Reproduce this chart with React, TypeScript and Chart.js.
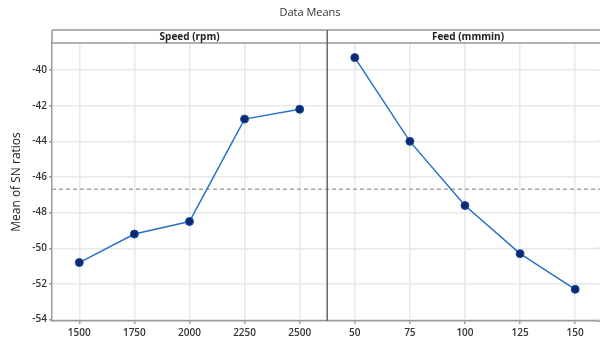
import React, { useEffect, useRef } from "react";
import Chart from "chart.js/auto";

const speedLabels = ["1500", "1750", "2000", "2250", "2500"];
const feedLabels = ["50", "75", "100", "125", "150"];
const speedMeans = [-50.8, -49.2, -48.5, -42.75, -42.2];
const feedMeans = [-39.3, -44.0, -47.6, -50.3, -52.3];
const overallMean = -46.68;
const yTicks = [-54, -52, -50, -48, -46, -44, -42, -40];
const panelTitles = ["Speed (rpm)", "Feed (mmmin)"];
const chartTitle = "Data Means";
const yTitle = "Mean of SN ratios";

const allLabels = [...speedLabels, ...feedLabels];
const X_MIN = -0.495;
const X_MAX = 9.36;
const X_EDGE = 9.46;

const decorPlugin = {
  id: "decor",
  afterDraw(chart: any) {
    const ctx = chart.ctx;
    const area = chart.chartArea;
    const xs = chart.scales.x;
    const ys = chart.scales.y;
    const divX = xs.getPixelForValue(4.5);
    const headerTop = 30;
    const rightEdge = chart.width;
    ctx.save();
    // extend horizontal gridlines to the canvas edge
    ctx.strokeStyle = "#e8e8e8";
    ctx.lineWidth = 1.5;
    ctx.beginPath();
    for (const t of ys.ticks) {
      const py = ys.getPixelForValue(t.value);
      ctx.moveTo(area.right, py);
      ctx.lineTo(rightEdge, py);
    }
    ctx.stroke();
    // extend bottom axis line
    ctx.strokeStyle = "#999";
    ctx.beginPath();
    ctx.moveTo(area.right, area.bottom);
    ctx.lineTo(rightEdge, area.bottom);
    ctx.stroke();
    // title
    ctx.fillStyle = "#333";
    ctx.font = "11px 'Open Sans'";
    ctx.textAlign = "center";
    ctx.textBaseline = "middle";
    ctx.fillText(chartTitle, 310, 13);
    // header strip
    ctx.strokeStyle = "#999";
    ctx.lineWidth = 1.5;
    ctx.beginPath();
    ctx.moveTo(area.left, headerTop);
    ctx.lineTo(rightEdge, headerTop);
    ctx.moveTo(area.left, area.top);
    ctx.lineTo(rightEdge, area.top);
    ctx.moveTo(area.left, headerTop);
    ctx.lineTo(area.left, area.top);
    ctx.stroke();
    // divider
    ctx.strokeStyle = "#666";
    ctx.lineWidth = 1.5;
    ctx.beginPath();
    ctx.moveTo(divX, headerTop);
    ctx.lineTo(divX, area.bottom);
    ctx.stroke();
    // panel titles
    ctx.fillStyle = "#222";
    ctx.font = "bold 10px 'Open Sans'";
    ctx.fillText(panelTitles[0], (area.left + divX) / 2, (headerTop + area.top) / 2 + 0.5);
    ctx.fillText(panelTitles[1], 468, (headerTop + area.top) / 2 + 0.5);
    // y title
    ctx.translate(17, 182);
    ctx.rotate(-Math.PI / 2);
    ctx.fillStyle = "#222";
    ctx.font = "12px 'Open Sans'";
    ctx.fillText(yTitle, 0, 0);
    ctx.restore();
  },
};

export default function App() {
  const ref = useRef<HTMLCanvasElement>(null);
  useEffect(() => {
    const canvas = ref.current;
    if (!canvas) return;
    const speedData = speedMeans.map((v, i) => ({ x: i, y: v }));
    const feedData = feedMeans.map((v, i) => ({ x: i + 5, y: v }));
    const lineStyle = {
      borderColor: "#2a72c6",
      borderWidth: 1.5,
      pointRadius: 4,
      pointBackgroundColor: "#0b2a70",
      pointBorderColor: "#1a4c9e",
      pointBorderWidth: 1,
      tension: 0,
      order: 1,
    };
    const chart = new Chart(canvas, {
      type: "line",
      data: {
        datasets: [
          { label: "Speed", data: speedData, ...lineStyle },
          { label: "Feed", data: feedData, ...lineStyle },
          {
            label: "Mean",
            data: [
              { x: X_MIN, y: overallMean },
              { x: X_EDGE, y: overallMean },
            ],
            borderColor: "#a8a8a8",
            borderWidth: 1.5,
            borderDash: [4, 3],
            pointRadius: 0,
            clip: { left: 0, top: 0, bottom: 0, right: 10 },
            order: 2,
          },
        ],
      },
      options: {
        animation: false,
        responsive: false,
        layout: { padding: { top: 43, right: 0, left: 0, bottom: 0 } },
        plugins: {
          legend: { display: false },
          title: { display: false },
          tooltip: { enabled: false },
        },
        scales: {
          x: {
            type: "linear",
            min: X_MIN,
            max: X_MAX,
            afterBuildTicks: (axis: any) => {
              axis.ticks = allLabels.map((_, i) => ({ value: i }));
            },
            afterFit: (scale: any) => {
              scale.height = 24;
            },
            ticks: {
              autoSkip: false,
              maxRotation: 0,
              padding: 3,
              color: "#333",
              font: { family: "'Open Sans'", size: 10, weight: "600" },
              callback: (v: any) => allLabels[v] ?? "",
            },
            grid: {
              color: "#e8e8e8",
              lineWidth: 1.5,
              tickColor: "#999",
              tickLength: 3,
            },
            border: { color: "#999", width: 1.5 },
          },
          y: {
            type: "linear",
            min: -54.08,
            max: -38.48,
            afterBuildTicks: (axis: any) => {
              axis.ticks = yTicks.map((v) => ({ value: v }));
            },
            afterFit: (scale: any) => {
              scale.width = 52;
            },
            ticks: {
              padding: 2,
              color: "#333",
              font: { family: "'Open Sans'", size: 10, weight: "600" },
            },
            grid: {
              color: "#e8e8e8",
              lineWidth: 1.5,
              tickColor: "#999",
              tickLength: 3,
            },
            border: { color: "#999", width: 1.5 },
          },
        },
      },
      plugins: [decorPlugin],
    });
    return () => chart.destroy();
  }, []);
  return (
    <div style={{ position: "absolute", left: 0, top: 0, width: 600, height: 345, background: "#fff" }}>
      <canvas ref={ref} width={600} height={345} style={{ display: "block" }} />
    </div>
  );
}
